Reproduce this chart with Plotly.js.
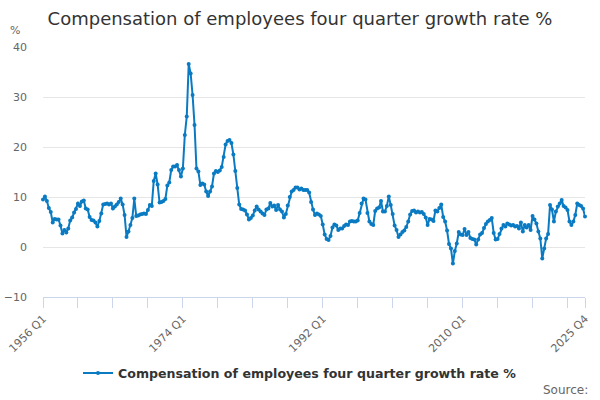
<!DOCTYPE html>
<html>
<head>
<meta charset="utf-8">
<script src="https://cdn.plot.ly/plotly-3.0.1.min.js"></script>
<style>
  html, body { margin: 0; padding: 0; background: #fff; }
  #chart { width: 600px; height: 400px; }
</style>
</head>
<body>
<div id="chart"></div>
<script>
  "use strict";

  const FONT = "DejaVu Sans, Verdana, sans-serif";
  const BLUE = "#0a7bc2";
  const SERIES_NAME = "Compensation of employees four quarter growth rate %";

  // Quarterly period labels, 1956 Q1 .. 2025 Q4
  const FIRST_YEAR = 1956;
  const LAST_YEAR = 2025;
  const quarters = [];
  for (let y = FIRST_YEAR; y <= LAST_YEAR; y++) {
    for (let q = 1; q <= 4; q++) quarters.push(y + " Q" + q);
  }

  // Four quarter growth rate (%), one row per year
  const growth = [
    9.5, 10.1, 9.2, 7.8,      // 1956
    7.0, 4.9, 5.6, 5.5,       // 1957
    5.5, 4.3, 2.7, 3.4,       // 1958
    2.9, 3.7, 5.3, 5.9,       // 1959
    6.9, 7.6, 8.7, 8.2,       // 1960
    9.1, 9.3, 7.7, 7.5,       // 1961
    6.0, 5.4, 5.3, 4.9,       // 1962
    4.1, 5.2, 6.7, 8.5,       // 1963
    8.6, 8.7, 8.5, 8.7,       // 1964
    7.7, 8.1, 8.5, 9.0,       // 1965
    9.7, 8.5, 6.4, 2.0,       // 1966
    3.1, 4.4, 5.8, 9.7,       // 1967
    6.2, 6.3, 6.5, 6.6,       // 1968
    6.7, 6.6, 7.4, 8.4,       // 1969
    8.2, 13.2, 14.7, 12.5,    // 1970
    8.9, 9.0, 9.2, 9.6,       // 1971
    12.3, 12.9, 15.4, 16.1,   // 1972
    16.1, 16.4, 15.4, 14.1,   // 1973
    15.7, 22.4, 26.1, 36.6,   // 1974
    34.7, 30.4, 24.4, 15.7,   // 1975
    15.1, 12.4, 12.7, 12.5,   // 1976
    11.1, 10.2, 11.1, 12.1,   // 1977
    14.7, 15.2, 15.0, 15.3,   // 1978
    16.0, 18.0, 20.5, 21.2,   // 1979
    21.4, 20.8, 18.5, 15.2,   // 1980
    11.8, 8.5, 7.6, 7.5,      // 1981
    7.3, 6.5, 5.5, 5.8,       // 1982
    6.3, 7.3, 8.1, 7.5,       // 1983
    7.1, 6.7, 6.4, 7.5,       // 1984
    7.7, 8.8, 8.1, 8.3,       // 1985
    7.4, 8.4, 7.5, 7.1,       // 1986
    5.9, 6.6, 8.3, 10.0,      // 1987
    11.1, 11.4, 11.9, 11.9,   // 1988
    11.5, 11.7, 11.4, 11.4,   // 1989
    11.4, 10.9, 9.0, 7.5,     // 1990
    6.4, 6.7, 6.5, 6.2,       // 1991
    4.5, 2.5, 1.6, 1.4,       // 1992
    2.2, 3.9, 4.5, 4.3,       // 1993
    3.4, 3.7, 3.7, 4.2,       // 1994
    4.5, 4.4, 5.1, 5.2,       // 1995
    5.1, 5.1, 5.3, 6.8,       // 1996
    8.7, 9.7, 9.5, 6.8,       // 1997
    5.1, 4.6, 4.4, 7.2,       // 1998
    7.7, 7.9, 9.2, 7.1,       // 1999
    7.1, 8.2, 10.1, 8.4,      // 2000
    6.6, 4.3, 3.4, 2.0,       // 2001
    2.5, 3.0, 3.3, 4.0,       // 2002
    5.1, 6.5, 7.2, 7.3,       // 2003
    6.9, 7.1, 6.9, 7.0,       // 2004
    6.6, 5.9, 4.4, 5.6,       // 2005
    5.5, 5.2, 7.3, 7.1,       // 2006
    7.8, 8.5, 6.0, 5.1,       // 2007
    3.3, 0.6, -0.3, -3.3,     // 2008
    -0.8, 0.7, 3.0, 2.5,      // 2009
    2.4, 3.6, 2.4, 3.0,       // 2010
    1.8, 1.6, 1.5, 0.5,       // 2011
    1.5, 2.5, 2.8, 3.8,       // 2012
    4.6, 5.1, 5.4, 5.8,       // 2013
    2.8, 1.5, 1.6, 2.6,       // 2014
    3.7, 4.4, 4.1, 4.7,       // 2015
    4.5, 4.3, 4.4, 4.1,       // 2016
    4.2, 3.7, 4.9, 3.1,       // 2017
    4.4, 3.9, 4.4, 3.4,       // 2018
    6.2, 5.5, 4.7, 3.1,       // 2019
    1.7, -2.3, -0.3, 1.7,     // 2020
    2.6, 8.4, 7.5, 5.1,       // 2021
    7.1, 8.1, 8.7, 9.4,       // 2022
    8.2, 7.9, 7.4, 5.1,       // 2023
    4.4, 5.1, 6.4, 8.7,       // 2024
    8.4, 8.2, 7.7, 6.1        // 2025
  ];

  // Tick marks every 18 quarters, labels every 72 plus the last period
  const tickPeriods = [];
  for (let i = 0; i < quarters.length; i += 18) tickPeriods.push(quarters[i]);
  tickPeriods.push(quarters[quarters.length - 1]);
  const labelledPeriods = ["1956 Q1", "1974 Q1", "1992 Q1", "2010 Q1", "2025 Q4"];
  const tickLabels = tickPeriods.map((p) => (labelledPeriods.includes(p) ? p : ""));

  const yTicks = [-10, 0, 10, 20, 30, 40];

  const trace = {
    type: "scatter",
    mode: "lines+markers",
    name: SERIES_NAME,
    x: quarters,
    y: growth,
    line: { color: BLUE, width: 2 },
    marker: { color: BLUE, size: 4 },
    cliponaxis: false,
    hovertemplate: "%{x}: %{y}%<extra></extra>",
  };

  const layout = {
    width: 600,
    height: 400,
    paper_bgcolor: "#fff",
    plot_bgcolor: "#fff",
    font: { family: FONT, color: "#666", size: 11 },
    margin: { t: 47, r: 15, b: 103, l: 43 },
    title: {
      text: "Compensation of employees four quarter growth rate %",
      font: { family: FONT, size: 18, color: "#333" },
      x: 0.5, xanchor: "center", xref: "container",
      y: 1 - 19 / 400, yanchor: "middle", yref: "container",
    },
    showlegend: true,
    legend: {
      orientation: "h",
      x: (300 - 43) / 542, xanchor: "center",
      y: -0.305, yanchor: "middle",
      font: { family: FONT, size: 12.6, color: "#333", weight: 700 },
      itemwidth: 30,
    },
    xaxis: {
      type: "category",
      range: [0, quarters.length - 1],
      tickmode: "array",
      tickvals: tickPeriods,
      ticktext: tickLabels,
      tickangle: -45,
      ticks: "outside",
      ticklen: 10,
      tickcolor: "#ccd6eb",
      tickfont: { family: FONT, size: 11, color: "#666" },
      showline: true,
      linecolor: "#ccd6eb",
      linewidth: 1,
      showgrid: false,
      zeroline: false,
      fixedrange: true,
    },
    yaxis: {
      range: [-10, 40],
      tickmode: "array",
      tickvals: yTicks,
      ticks: "",
      ticklabelstandoff: 15,
      tickfont: { family: FONT, size: 11, color: "#666" },
      gridcolor: "#e6e6e6",
      gridwidth: 1,
      zeroline: false,
      showline: false,
      fixedrange: true,
    },
    annotations: [
      {
        text: "%", xref: "paper", yref: "paper",
        x: -35 / 542, y: 1 + 16 / 250, xanchor: "left", yanchor: "middle",
        showarrow: false, font: { family: FONT, size: 11, color: "#666" },
      },
      {
        text: "Source:", xref: "paper", yref: "paper",
        x: 1 + 5 / 542, y: -93 / 250, xanchor: "right", yanchor: "middle",
        showarrow: false, font: { family: FONT, size: 12, color: "#666" },
      },
    ],
  };

  Plotly.newPlot("chart", [trace], layout, { displayModeBar: false, staticPlot: true });
</script>
</body>
</html>
